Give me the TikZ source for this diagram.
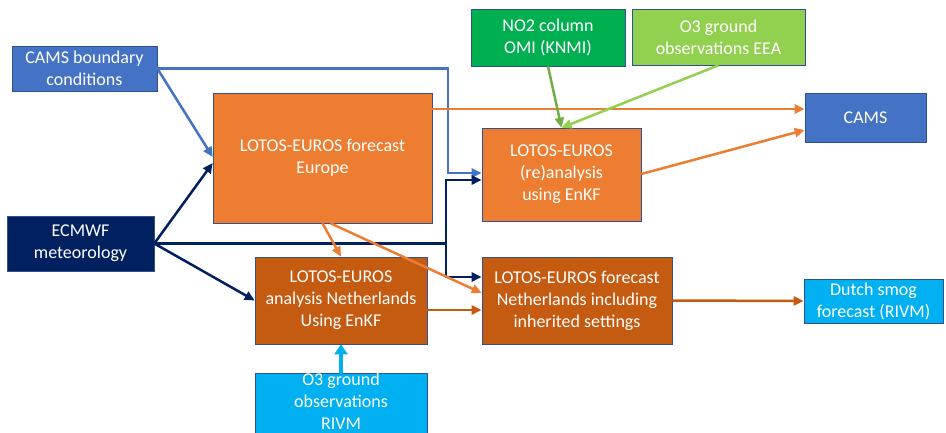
\documentclass[tikz,border=0pt]{standalone}
\usepackage{fontspec}
\setmainfont{Carlito}
\usetikzlibrary{arrows.meta}
\definecolor{cblue}{HTML}{4472C4}
\definecolor{cnavy}{HTML}{002060}
\definecolor{corange}{HTML}{ED7D31}
\definecolor{cdorange}{HTML}{C55A11}
\definecolor{cgreen}{HTML}{00B050}
\definecolor{clgreen}{HTML}{92D050}
\definecolor{cmgreen}{HTML}{70AD47}
\definecolor{ccyan}{HTML}{00B0F0}
\definecolor{cborder}{HTML}{2F528F}
\begin{document}
\begin{tikzpicture}[x=1pt,y=-1pt,
 box/.style={draw=cborder, line width=0.6pt, text=white, align=center, font=\fontsize{18}{22}\selectfont, inner sep=0pt},
 conn/.style={line width=2.5pt, -{Triangle[length=10pt,width=9pt]}},
 thickconn/.style={line width=4.5pt, -{Triangle[length=10pt,width=13pt]}},
]
\useasboundingbox (0,0) rectangle (946,432);
\clip (0,0) rectangle (946,432);
\fill[white] (0,0) rectangle (946,432);

\node[box, fill=cblue, minimum width=145pt, minimum height=45pt] (cbc) at (84.5,68.5) {CAMS boundary\\conditions};
\node[box, fill=corange, minimum width=219pt, minimum height=130pt] (eu) at (322.5,158) {LOTOS-EUROS forecast\\Europe};
\node[box, fill=cnavy, minimum width=147pt, minimum height=55pt] (ecm) at (80.5,243.5) {ECMWF\\meteorology};
\node[box, fill=cdorange, minimum width=172pt, minimum height=87pt] (anl) at (341,300.5) {LOTOS-EUROS\\analysis Netherlands\\Using EnKF};
\filldraw[fill=ccyan, draw=cborder, line width=0.6pt] (255,373) rectangle (427,445);
\node[box, draw=none, minimum width=172pt, minimum height=56pt] (o3r) at (341,401) {O3 ground\\observations\\RIVM};
\node[box, fill=cgreen, minimum width=154pt, minimum height=57pt] (no2) at (548,37.5) {NO2 column\\OMI (KNMI)};
\node[box, fill=clgreen, minimum width=173pt, minimum height=56pt] (o3e) at (718.5,37) {O3 ground\\observations EEA};
\node[box, fill=cblue, minimum width=121pt, minimum height=49pt] (cams) at (865.5,117.5) {CAMS};
\node[box, fill=corange, minimum width=159pt, minimum height=93pt] (rean) at (561.5,174.5) {LOTOS-EUROS\\(re)analysis\\using EnKF};
\node[box, fill=cdorange, minimum width=190pt, minimum height=87pt] (fcnl) at (577,300.5) {LOTOS-EUROS forecast\\Netherlands including\\inherited settings};
\node[box, fill=ccyan, minimum width=139pt, minimum height=44pt] (smog) at (873.5,301) {Dutch smog\\forecast (RIVM)};

% CAMS boundary conditions
\draw[conn, cblue] (cbc.east) -- (eu.west |- 0,157);
\draw[conn, cblue] (cbc.east) -| (448,173) -- (rean.west |- 0,173);

% ECMWF
\coordinate (j) at (446,243.5);
\draw[conn, cnavy] (ecm.east) -- (eu.west |- 0,163);
\draw[conn, cnavy] (ecm.east) -- (anl.west);
\draw[conn, cnavy] (ecm.east) -- (j) |- (rean.west |- 0,180);
\draw[conn, cnavy] (j) |- (fcnl.west |- 0,277);

% orange
\draw[conn, corange] (eu.east |- 0,109) -- (cams.west |- 0,109);
\draw[conn, corange] (rean.east |- 0,174) -- (cams.west |- 0,130);
\draw[conn, corange] (eu.south) -- (anl.north);
\draw[conn, corange] ([xshift=8pt]eu.south) -- (fcnl.west |- 0,293);

% dark orange
\draw[conn, cdorange] (anl.east |- 0,310) -- (fcnl.west |- 0,310);
\draw[conn, cdorange] (fcnl.east) -- (smog.west);

% greens
\draw[conn, cmgreen] (no2.south) -- (rean.north);
\draw[conn, clgreen] (o3e.south) -- (rean.north);

% cyan
\draw[thickconn, ccyan] ([yshift=-2pt]o3r.north) -- (anl.south);
\end{tikzpicture}
\end{document}
